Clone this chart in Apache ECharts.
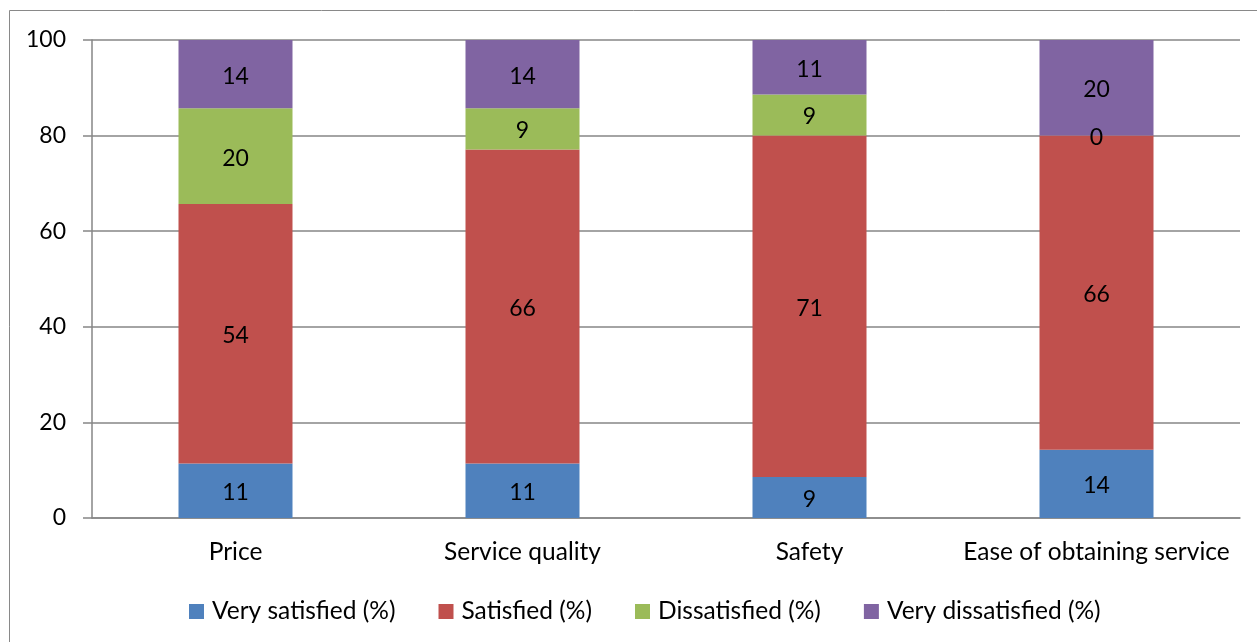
<!DOCTYPE html>
<html>
<head>
<meta charset="utf-8">
<script src="https://cdn.jsdelivr.net/npm/echarts@6/dist/echarts.min.js"></script>
<style>
  html, body { margin: 0; padding: 0; background: #ffffff; }
  #chart { width: 1257px; height: 642px; }
</style>
</head>
<body>
<div id="chart"></div>
<script>
// Survey satisfaction shares per service aspect (percent of respondents)
const categories = ['Price', 'Service quality', 'Safety', 'Ease of obtaining service'];
const verySatisfied = [11.4, 11.4, 8.6, 14.3];
const satisfied = [54.3, 65.7, 71.4, 65.7];
const dissatisfied = [20.0, 8.6, 8.6, 0];
const veryDissatisfied = [14.3, 14.3, 11.4, 20.0];
const yTicks = { min: 0, max: 100, step: 20 };

const FONT = 'Lato, "Open Sans", sans-serif';
const seriesDefs = [
  { name: 'Very satisfied (%)', data: verySatisfied, color: '#4F81BD' },
  { name: 'Satisfied (%)', data: satisfied, color: '#C0504D' },
  { name: 'Dissatisfied (%)', data: dissatisfied, color: '#9BBB59' },
  { name: 'Very dissatisfied (%)', data: veryDissatisfied, color: '#8064A2' }
];

const chart = echarts.init(document.getElementById('chart'), null, { renderer: 'canvas' });

chart.setOption({
  animation: false,
  backgroundColor: '#ffffff',
  textStyle: { fontFamily: FONT },
  graphic: [{
    type: 'rect',
    shape: { x: 9.5, y: 10.5, width: 1270, height: 660 },
    style: { fill: 'none', stroke: '#898989', lineWidth: 1 },
    silent: true,
    z: -10
  }],
  grid: { left: 92, right: 17, top: 40, bottom: 124, containLabel: false },
  legend: {
    left: 184,
    top: 594,
    itemWidth: 15,
    itemHeight: 15,
    itemGap: 43,
    icon: 'rect',
    textStyle: { fontFamily: FONT, fontSize: 24.5, color: '#000000', padding: [0, 0, 0, 3] },
    data: seriesDefs.map(s => s.name)
  },
  xAxis: {
    type: 'category',
    data: categories,
    axisLine: { show: true, lineStyle: { color: '#868686', width: 1.5 } },
    axisTick: { show: false },
    axisLabel: { fontFamily: FONT, fontSize: 24.5, color: '#000000', margin: 22, interval: 0 },
    splitLine: { show: false }
  },
  yAxis: {
    type: 'value',
    min: yTicks.min,
    max: yTicks.max,
    interval: yTicks.step,
    axisLine: { show: true, lineStyle: { color: '#868686', width: 1.5 } },
    axisTick: { show: true, length: 9, lineStyle: { color: '#868686', width: 1.5 } },
    axisLabel: { fontFamily: FONT, fontSize: 23, color: '#000000', margin: 26 },
    splitLine: { show: true, lineStyle: { color: '#868686', width: 1.5 } }
  },
  series: seriesDefs.map(s => ({
    name: s.name,
    type: 'bar',
    stack: 'total',
    data: s.data,
    barWidth: 114,
    itemStyle: { color: s.color },
    label: {
      show: true,
      position: 'inside',
      offset: [0, 2],
      fontFamily: FONT,
      fontSize: 23,
      color: '#000000',
      formatter: p => String(Math.round(p.value))
    }
  }))
});
</script>
</body>
</html>
